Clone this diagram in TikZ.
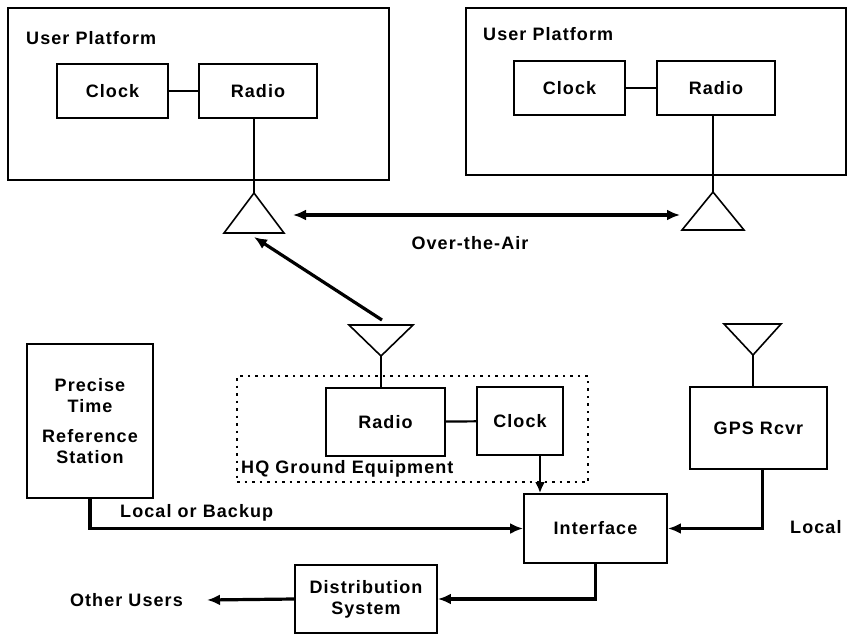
\documentclass[tikz,border=0pt]{standalone}
\usepackage{fontspec}
\setmainfont{Liberation Sans}[LetterSpace=6]
\usetikzlibrary{arrows.meta}

\tikzset{
  txt/.style={font=\fontsize{18}{21}\selectfont\bfseries},
  box/.style={draw, line width=1.8pt, inner sep=0pt, align=center, txt},
  lbl/.style={inner sep=0pt, txt},
  ant/.style={line width=1.6pt, line join=miter},
  wire/.style={line width=2.2pt},
  feed/.style={line width=3.2pt, -{Latex[length=13pt,width=11pt]}},
  feedtwo/.style={line width=3.2pt, {Latex[length=13pt,width=11pt]}-{Latex[length=13pt,width=11pt]}},
}

\begin{document}
\begin{tikzpicture}[x=1pt, y=-1pt]
  \useasboundingbox (0,0) rectangle (849,635);
  % user platforms
  \node[box, minimum width=381pt, minimum height=172pt] (upL) at (198.5,94) {};
  \node[box, minimum width=380pt, minimum height=167pt] (upR) at (656,91.5) {};
  \node[lbl, anchor=west] (upLt) at (26,38) {User Platform};
  \node[lbl, anchor=west] (upRt) at (483,34) {User Platform};
  \node[box, minimum width=111pt, minimum height=54pt] (clockL) at (112.5,91) {Clock};
  \node[box, minimum width=118pt, minimum height=54pt] (radioL) at (258,91) {Radio};
  \node[box, minimum width=111pt, minimum height=54pt] (clockR) at (569.5,88) {Clock};
  \node[box, minimum width=118pt, minimum height=54pt] (radioR) at (716,88) {Radio};
  \draw[wire] (clockL) -- (radioL);
  \draw[wire] (clockR) -- (radioR);

  % antennas
  \coordinate (antL) at (254,193);
  \coordinate (antR) at (713,192);
  \coordinate (antHQ) at (381,356);
  \coordinate (antG) at (753,355);
  \draw[ant] (antL) -- ++(-30,40) -- ++(60,0) -- cycle;
  \draw[ant] (antR) -- ++(-31,38) -- ++(62,0) -- cycle;
  \draw[ant] (antHQ) -- ++(-32,-31) -- ++(64,0) -- cycle;
  \draw[ant] (antG) -- ++(-29,-31) -- ++(57,0) -- cycle;
  \draw[ant] (antL) -- (antL |- radioL.south);
  \draw[ant] (antR) -- (antR |- radioR.south);

  % over the air
  \coordinate (airL) at (293,215);
  \coordinate (airR) at (680,215);
  \coordinate (hqTop) at (382,320);
  \coordinate (antLb) at (254,237);
  \draw[feedtwo] (airL) -- (airR);
  \draw[feed] (hqTop) -- (antLb);
  \node[lbl] (air) at (470,243) {Over-the-Air};

  % HQ ground equipment
  \node[draw, line width=1.6pt, dash pattern=on 2.5pt off 5pt, minimum width=351pt, minimum height=106pt] (hq) at (412.5,429) {};
  \node[box, minimum width=119pt, minimum height=68pt] (radioHQ) at (385.5,422) {Radio};
  \node[box, minimum width=86pt, minimum height=68pt] (clockHQ) at (520,421) {Clock};
  \node[lbl, anchor=west] (hqt) at (241,469) {HQ Ground Equipment};
  \draw[wire] (radioHQ) -- (clockHQ);
  \draw[ant] (antHQ) -- (antHQ |- radioHQ.north);

  % ground side
  \node[box, minimum width=126pt, minimum height=154pt] (ptrs) at (90,421) {Precise\\Time\\[9pt]Reference\\Station};
  \node[box, minimum width=137pt, minimum height=82pt] (gps) at (758.5,428) {GPS Rcvr};
  \node[box, minimum width=143pt, minimum height=69pt] (iface) at (595.5,528.5) {Interface};
  \node[box, minimum width=142pt, minimum height=68pt] (dist) at (366,599) {Distribution\\System};
  \node[lbl, anchor=west] (lob) at (120,513) {Local or Backup};
  \node[lbl, anchor=west] (loc) at (790,527) {Local};
  \node[lbl, anchor=east] (others) at (183,600) {Other Users};
  \draw[ant] (antG) -- (antG |- gps.north);

  \draw[feed, line width=2.2pt, -{Latex[length=11pt,width=10pt]}] ([xshift=20pt]clockHQ.south) -- ([xshift=20pt]clockHQ.south |- iface.north);
  \draw[feed] ([xshift=4pt]gps.south) |- (iface.east);
  \draw[feed] (ptrs.south) |- (iface.west);
  \draw[feed] (iface.south) |- (dist.east);
  \draw[feed] (dist.west) -- ([xshift=24pt]others.east);
\end{tikzpicture}
\end{document}
